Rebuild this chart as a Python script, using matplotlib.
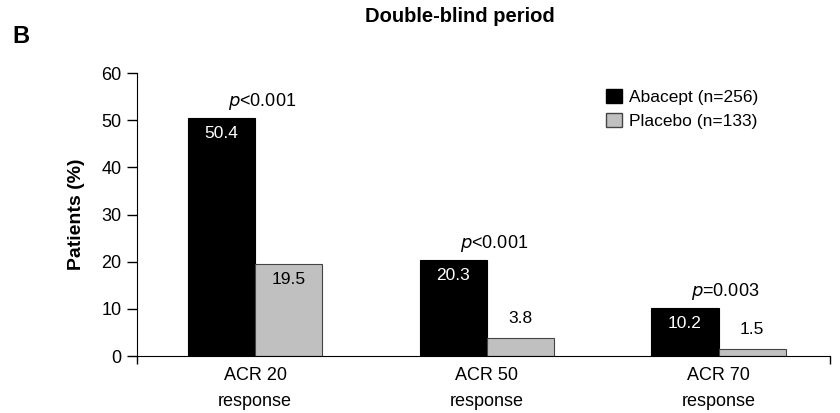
import matplotlib
matplotlib.use("Agg")
import matplotlib.pyplot as plt
from matplotlib.patches import Patch
import numpy as np

plt.rcParams['font.family'] = ['Liberation Sans Narrow', 'Liberation Sans', 'DejaVu Sans']
plt.rcParams['mathtext.fontset'] = 'custom'
plt.rcParams['mathtext.it'] = 'Liberation Sans Narrow:italic'
plt.rcParams['mathtext.rm'] = 'Liberation Sans Narrow'

categories = ["ACR 20\nresponse", "ACR 50\nresponse", "ACR 70\nresponse"]
abacept = [50.4, 20.3, 10.2]
placebo = [19.5, 3.8, 1.5]
p_values = ["<0.001", "<0.001", "=0.003"]
legend_labels = ["Abacept (n=256)", "Placebo (n=133)"]

x = np.arange(len(categories))
w = 0.29

fig = plt.figure(figsize=(8.4, 4.13), dpi=100)
ax = fig.add_axes([0.163, 0.138, 0.825, 0.685])

ax.bar(x - w / 2, abacept, w, color='black', edgecolor='black', linewidth=0.8)
ax.bar(x + w / 2, placebo, w, color='#c0c0c0', edgecolor='#444444', linewidth=0.8)

# values: inside the tall bars, above the short ones
for xi, v in zip(x, abacept):
    ax.annotate(f"{v:.1f}", (xi - w / 2, v), xytext=(0, -11), textcoords='offset points',
                ha='center', va='center', color='white', fontsize=12.5)
for xi, v in zip(x, placebo):
    off = -11 if v > 10 else 14
    ax.annotate(f"{v:.1f}", (xi + w / 2, v), xytext=(0, off), textcoords='offset points',
                ha='center', va='center', color='black', fontsize=12.5)
for xi, v, p in zip(x, abacept, p_values):
    ax.annotate(r"$\mathit{p}$" + p, (xi + 0.03, v), xytext=(0, 12), textcoords='offset points',
                ha='center', va='center', color='black', fontsize=13)

ax.set_xlim(-0.51, 2.48)
ax.set_ylim(0, 60)
ax.set_yticks(range(0, 61, 10))
ax.set_xticks(x)
ax.set_xticklabels(categories, fontsize=13, linespacing=1.65)
ax.tick_params(axis='x', length=0, pad=8)
ax.set_xticks([-0.51, 2.48], minor=True)
ax.tick_params(axis='x', which='minor', length=6, width=1)
ax.tick_params(axis='y', length=7, width=1, labelsize=13, pad=4)
ax.spines['top'].set_visible(False)
ax.spines['right'].set_visible(False)
ax.set_ylabel("Patients (%)", fontsize=14, fontweight='bold', labelpad=12)

handles = [Patch(facecolor='black', edgecolor='black'),
           Patch(facecolor='#c0c0c0', edgecolor='#444444')]
ax.legend(handles, legend_labels, loc='upper left', bbox_to_anchor=(0.655, 1.0),
          frameon=False, fontsize=12.5, handlelength=0.9, handleheight=0.9,
          handletextpad=0.4, labelspacing=0.45)

fig.text(0.548, 0.96, "Double-blind period", ha='center', va='center',
         fontsize=14.5, fontweight='bold')
fig.text(0.025, 0.912, "B", ha='center', va='center', fontsize=17, fontweight='bold')

fig.savefig("out.png", dpi=100)
